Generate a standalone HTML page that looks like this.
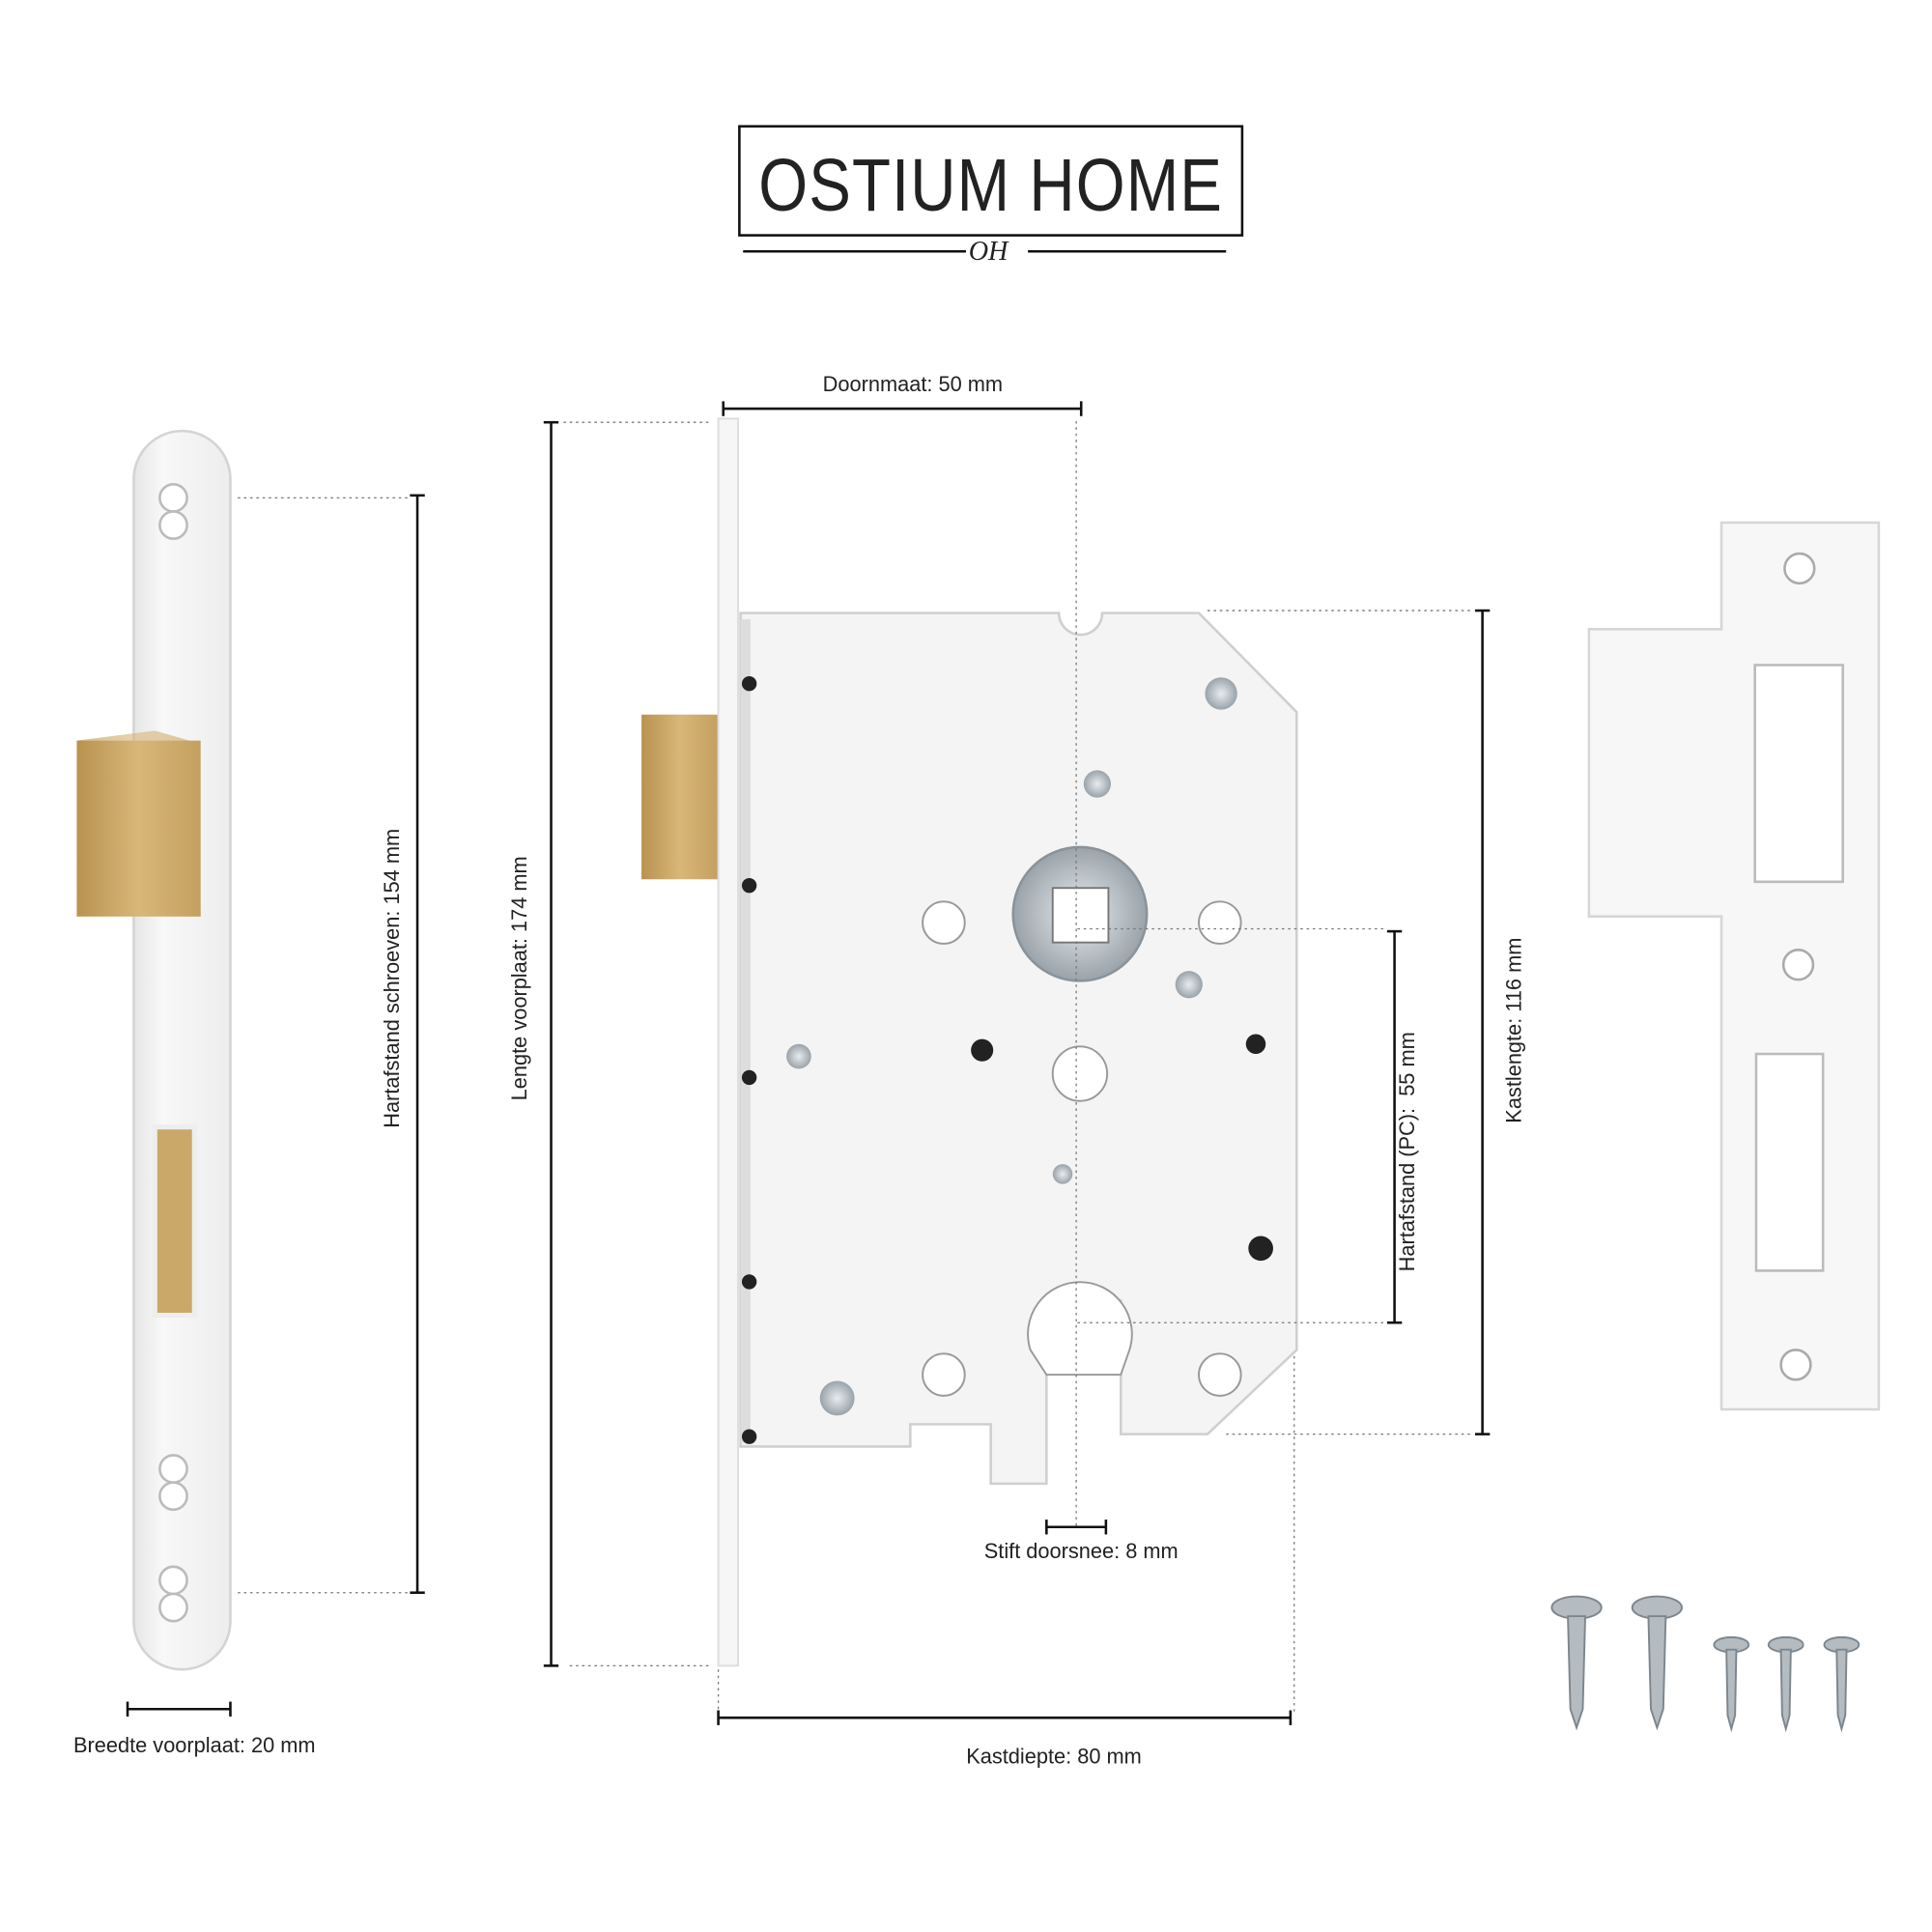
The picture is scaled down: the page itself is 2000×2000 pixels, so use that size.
<!DOCTYPE html>
<html><head><meta charset="utf-8"><style>
html,body{margin:0;padding:0;background:#fff}
svg{display:block}
text{font-family:"Liberation Sans",sans-serif;fill:#222}
</style></head><body>
<svg width="2000" height="2000" viewBox="0 0 1560 1560" xmlns="http://www.w3.org/2000/svg">
<defs>
<linearGradient id="brass" x1="0" x2="1"><stop offset="0" stop-color="#b8924f"/><stop offset=".5" stop-color="#d8b77a"/><stop offset="1" stop-color="#c4a060"/></linearGradient>
<linearGradient id="plate" x1="0" x2="1"><stop offset="0" stop-color="#e6e6e6"/><stop offset=".3" stop-color="#f8f8f8"/><stop offset="1" stop-color="#ededed"/></linearGradient>
<radialGradient id="zinc"><stop offset="0" stop-color="#e8ecef"/><stop offset="1" stop-color="#9aa3aa"/></radialGradient>
</defs>
<!-- logo -->
<rect x="597" y="102" width="406" height="88" fill="none" stroke="#111" stroke-width="2"/>
<text x="800" y="170" text-anchor="middle" font-size="60" style="font-weight:300;letter-spacing:1px" textLength="375" lengthAdjust="spacingAndGlyphs">OSTIUM HOME</text>
<line x1="600" y1="203" x2="780" y2="203" stroke="#111" stroke-width="2"/>
<line x1="830" y1="203" x2="990" y2="203" stroke="#111" stroke-width="2"/>
<text x="798" y="210" text-anchor="middle" font-size="22" font-style="italic" style="font-family:'Liberation Serif',serif">OH</text>

<!-- left faceplate -->
<rect x="108" y="348" width="78" height="1000" rx="39" fill="url(#plate)" stroke="#d4d4d4" stroke-width="2"/>
<rect x="62" y="598" width="100" height="142" fill="url(#brass)"/>
<polygon points="62,598 125,590 160,600 162,740 62,740" fill="url(#brass)" opacity=".6"/>
<rect x="125" y="910" width="32" height="152" fill="#c9a86a" stroke="#eee" stroke-width="4"/>
<g fill="#fff" stroke="#bbb" stroke-width="2">
<circle cx="140" cy="402" r="11"/><circle cx="140" cy="424" r="11"/>
<circle cx="140" cy="1186" r="11"/><circle cx="140" cy="1208" r="11"/>
<circle cx="140" cy="1276" r="11"/><circle cx="140" cy="1298" r="11"/>
</g>
<!-- left dims -->
<line x1="192" y1="402" x2="330" y2="402" stroke="#777" stroke-dasharray="2,3"/>
<line x1="192" y1="1286" x2="330" y2="1286" stroke="#777" stroke-dasharray="2,3"/>
<line x1="337" y1="400" x2="337" y2="1286" stroke="#111" stroke-width="2"/>
<line x1="331" y1="400" x2="343" y2="400" stroke="#111" stroke-width="2"/>
<line x1="331" y1="1286" x2="343" y2="1286" stroke="#111" stroke-width="2"/>
<text transform="translate(322,790) rotate(-90)" text-anchor="middle" font-size="17">Hartafstand schroeven: 154 mm</text>
<line x1="103" y1="1380" x2="186" y2="1380" stroke="#111" stroke-width="2"/>
<line x1="103" y1="1374" x2="103" y2="1386" stroke="#111" stroke-width="2"/>
<line x1="186" y1="1374" x2="186" y2="1386" stroke="#111" stroke-width="2"/>
<text x="157" y="1415" text-anchor="middle" font-size="17">Breedte voorplaat: 20 mm</text>

<!-- middle lock -->
<rect x="518" y="577" width="62" height="133" fill="url(#brass)"/>
<rect x="580" y="338" width="16" height="1007" fill="#f6f6f6" stroke="#ddd" stroke-width="1.5"/>
<path d="M598,495 L855,495 A15,15 0 0 0 890,495 L968,495 L1047,575 L1047,1090 L975,1158 L905,1158 L905,1095 L905,1050 L845,1050 L845,1198 L800,1198 L800,1150 L735,1150 L735,1168 L598,1168 Z" fill="#f4f4f4" stroke="#cfcfcf" stroke-width="2"/>
<rect x="598" y="500" width="8" height="665" fill="#ddd"/>
<g fill="#222"><circle cx="605" cy="552" r="6"/><circle cx="605" cy="715" r="6"/><circle cx="605" cy="870" r="6"/><circle cx="605" cy="1035" r="6"/><circle cx="605" cy="1160" r="6"/>
<circle cx="793" cy="848" r="9"/><circle cx="1014" cy="843" r="8"/><circle cx="1018" cy="1008" r="10"/></g>
<g fill="#fff" stroke="#999" stroke-width="1.5">
<circle cx="762" cy="745" r="17"/><circle cx="985" cy="745" r="17"/>
<circle cx="762" cy="1110" r="17"/><circle cx="985" cy="1110" r="17"/>
<circle cx="872" cy="867" r="22"/>
<path d="M832,1090 A42,42 0 1 1 912,1090 L905,1110 L845,1110 Z"/>
</g>
<g fill="url(#zinc)"><circle cx="986" cy="560" r="13"/><circle cx="886" cy="633" r="11"/><circle cx="676" cy="1129" r="14"/><circle cx="645" cy="853" r="10"/><circle cx="960" cy="795" r="11"/><circle cx="858" cy="948" r="8"/></g>
<circle cx="872" cy="738" r="54" fill="url(#zinc)" stroke="#8a939a" stroke-width="2"/>
<rect x="850" y="717" width="45" height="44" fill="#fff" stroke="#777" stroke-width="1.5"/>
<!-- middle dims -->
<g stroke="#777" stroke-dasharray="2,3" fill="none">
<line x1="869" y1="340" x2="869" y2="1232"/>
<line x1="455" y1="341" x2="572" y2="341"/>
<line x1="460" y1="1345" x2="572" y2="1345"/>
<line x1="580" y1="1348" x2="580" y2="1385"/>
<line x1="1045" y1="1095" x2="1045" y2="1382"/>
<line x1="975" y1="493" x2="1190" y2="493"/>
<line x1="990" y1="1158" x2="1190" y2="1158"/>
<line x1="870" y1="750" x2="1118" y2="750"/>
<line x1="870" y1="1068" x2="1118" y2="1068"/>
</g>
<g stroke="#111" stroke-width="2">
<line x1="584" y1="330" x2="873" y2="330"/><line x1="584" y1="324" x2="584" y2="336"/><line x1="873" y1="324" x2="873" y2="336"/>
<line x1="445" y1="341" x2="445" y2="1345"/><line x1="439" y1="341" x2="451" y2="341"/><line x1="439" y1="1345" x2="451" y2="1345"/>
<line x1="1197" y1="493" x2="1197" y2="1158"/><line x1="1191" y1="493" x2="1203" y2="493"/><line x1="1191" y1="1158" x2="1203" y2="1158"/>
<line x1="1126" y1="752" x2="1126" y2="1068"/><line x1="1120" y1="752" x2="1132" y2="752"/><line x1="1120" y1="1068" x2="1132" y2="1068"/>
<line x1="845" y1="1233" x2="893" y2="1233"/><line x1="845" y1="1227" x2="845" y2="1239"/><line x1="893" y1="1227" x2="893" y2="1239"/>
<line x1="580" y1="1387" x2="1042" y2="1387"/><line x1="580" y1="1381" x2="580" y2="1393"/><line x1="1042" y1="1381" x2="1042" y2="1393"/>
</g>
<text x="737" y="316" text-anchor="middle" font-size="17">Doornmaat: 50 mm</text>
<text transform="translate(425,790) rotate(-90)" text-anchor="middle" font-size="17">Lengte voorplaat: 174 mm</text>
<text transform="translate(1228,832) rotate(-90)" text-anchor="middle" font-size="17">Kastlengte: 116 mm</text>
<text transform="translate(1142,930) rotate(-90)" text-anchor="middle" font-size="17" xml:space="preserve">Hartafstand (PC):  55 mm</text>
<text x="873" y="1258" text-anchor="middle" font-size="17">Stift doorsnee: 8 mm</text>
<text x="851" y="1424" text-anchor="middle" font-size="17">Kastdiepte: 80 mm</text>

<!-- strike plate -->
<polygon points="1390,422 1517,422 1517,1138 1390,1138 1390,740 1283,740 1283,508 1390,508" fill="#f7f7f7" stroke="#d6d6d6" stroke-width="2"/>
<rect x="1417" y="537" width="71" height="175" fill="#fff" stroke="#bbb" stroke-width="2"/>
<rect x="1418" y="851" width="54" height="175" fill="#fff" stroke="#bbb" stroke-width="2"/>
<g fill="#fff" stroke="#aaa" stroke-width="2"><circle cx="1453" cy="459" r="12"/><circle cx="1452" cy="779" r="12"/><circle cx="1450" cy="1102" r="12"/></g>

<!-- screws -->
<g fill="#b4bcc2" stroke="#7d868d" stroke-width="1.5">
<ellipse cx="1273" cy="1298" rx="20" ry="9"/><polygon points="1266,1305 1280,1305 1278,1380 1273,1395 1268,1380"/>
<ellipse cx="1338" cy="1298" rx="20" ry="9"/><polygon points="1331,1305 1345,1305 1343,1380 1338,1395 1333,1380"/>
<ellipse cx="1398" cy="1328" rx="14" ry="6"/><polygon points="1394,1332 1402,1332 1401,1385 1398,1396 1395,1385"/>
<ellipse cx="1442" cy="1328" rx="14" ry="6"/><polygon points="1438,1332 1446,1332 1445,1385 1442,1396 1439,1385"/>
<ellipse cx="1487" cy="1328" rx="14" ry="6"/><polygon points="1483,1332 1491,1332 1490,1385 1487,1396 1484,1385"/>
</g>
</svg>
</body></html>
